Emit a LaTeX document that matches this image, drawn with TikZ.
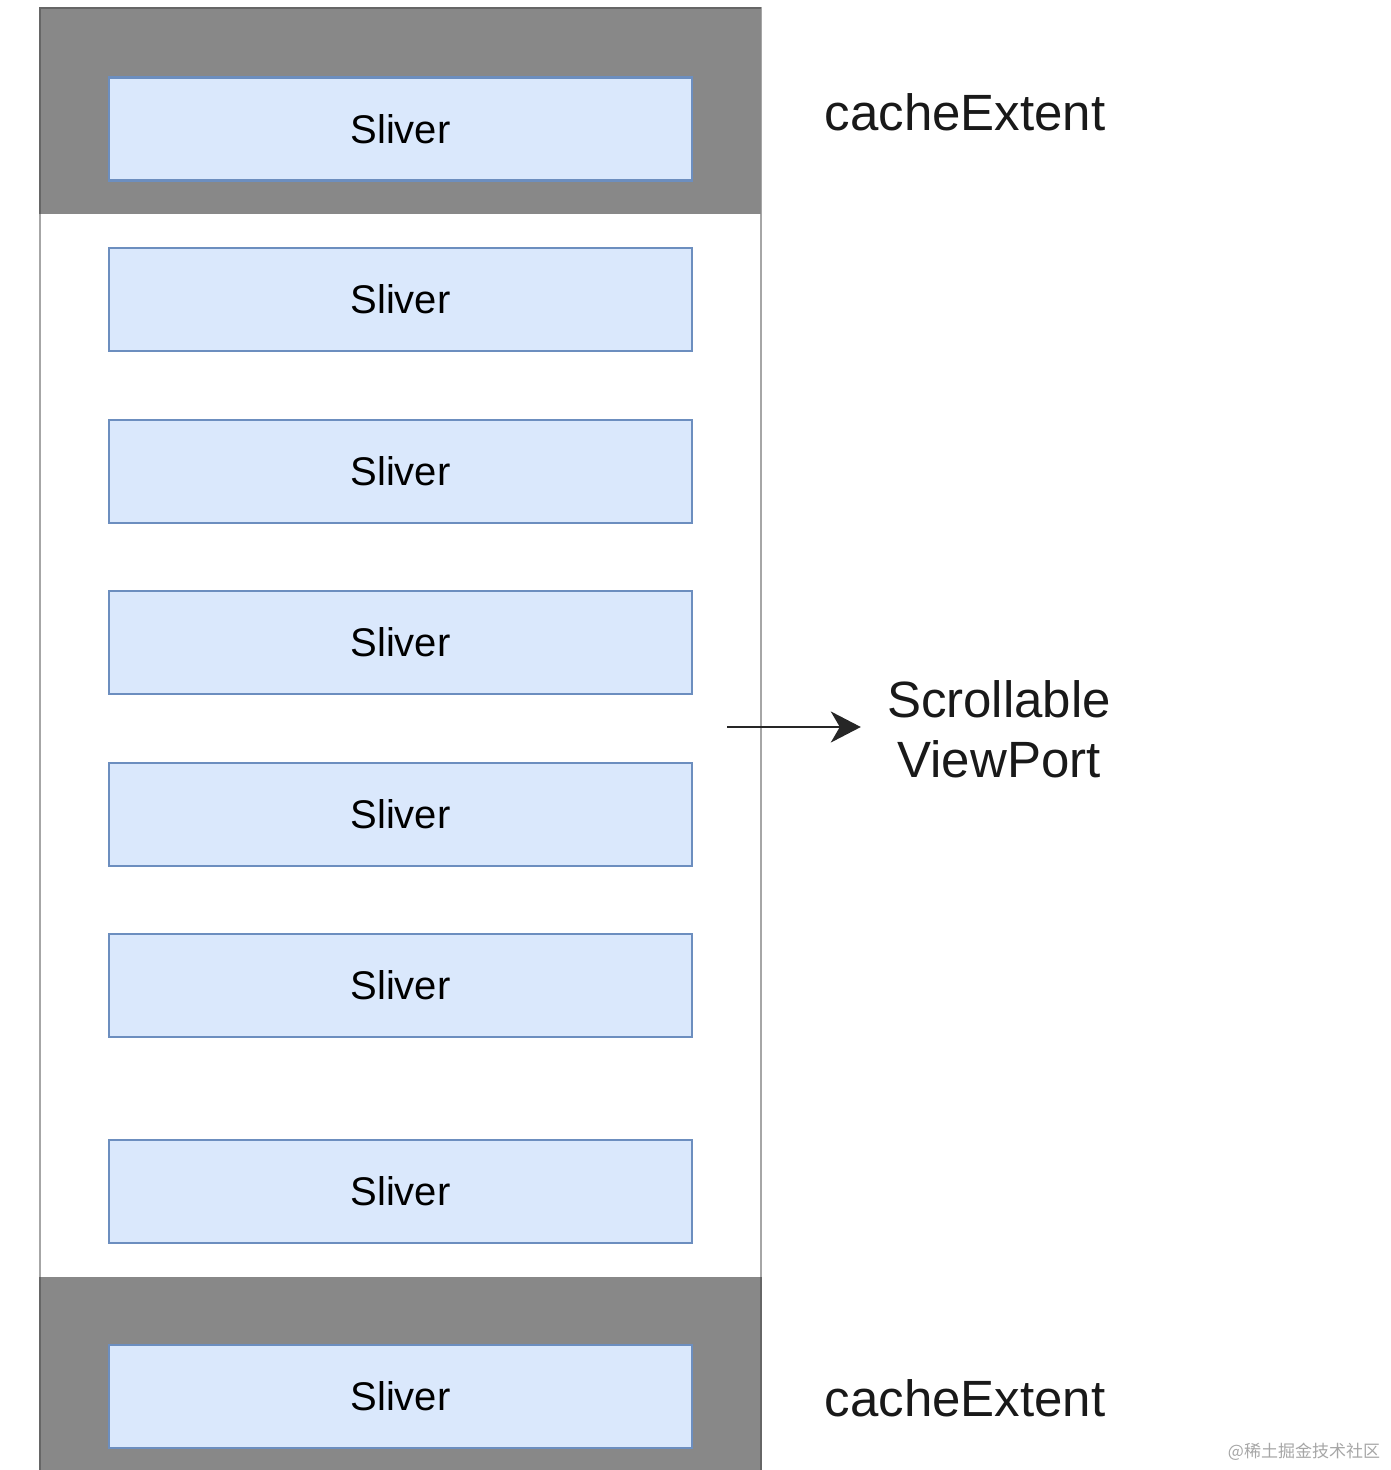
\documentclass[tikz,border=0pt]{standalone}
\usepackage{fontspec}
\setmainfont{Liberation Sans}
\newfontfamily\cjk{Noto Sans CJK SC}
\usetikzlibrary{arrows.meta}
\definecolor{sliverfill}{HTML}{DAE8FC}
\definecolor{sliverline}{HTML}{6C8EBF}
\definecolor{cachegray}{HTML}{888888}

\begin{document}
\begin{tikzpicture}[x = 1pt, y = -1pt,
    sliver/.style = {draw = sliverline, fill = sliverfill, line width = 2.5pt,
        minimum width = 583pt, minimum height = 103pt, inner sep = 0pt,
        font = \fontsize{40}{48}\selectfont},
    lbl/.style = {font = \fontsize{51}{62}\selectfont, text = black!90, align = center}]
    \useasboundingbox (0,0) rectangle (1390,1470);
    % viewport frame and the two cache bands
    \draw[gray!70, line width = 2pt] (40,8) rectangle (761,1475);
    \fill[cachegray] (40,8) rectangle (761,214);
    \fill[cachegray] (40,1277) rectangle (761,1475);
    \draw[black!60, line width = 2.5pt] (40,214) -- (40,8) -- (761,8);
    \draw[black!60, line width = 2.5pt] (40,1475) -- (40,1277);
    \draw[black!60, line width = 2.5pt] (761,1277) -- (761,1475);
    % slivers
    \foreach \name/\y in {s1/129, s2/299.5, s3/471.5, s4/642.5, s5/814.5, s6/985.5, s7/1191.5, s8/1396.5}
        \node[sliver] (\name) at (400.5,\y) {Sliver};
    % labels
    \node[lbl] (cachetop) at (965,112) {cacheExtent};
    \node[lbl] (cachebot) at (965,1398) {cacheExtent};
    \node[lbl, inner xsep = 26pt] (svp) at (999,729) {Scrollable\\[-2pt]ViewPort};
    \coordinate (from) at (727,727);
    \draw[-{Stealth[length = 30pt, width = 31pt, inset = 9pt]}, line width = 2.5pt, black!85]
        (from) -- (from -| svp.west);
    \node[font = \cjk\fontsize{17}{20}\selectfont, text = black!35] (mark) at (1304,1452) {@稀土掘金技术社区};
\end{tikzpicture}
\end{document}
